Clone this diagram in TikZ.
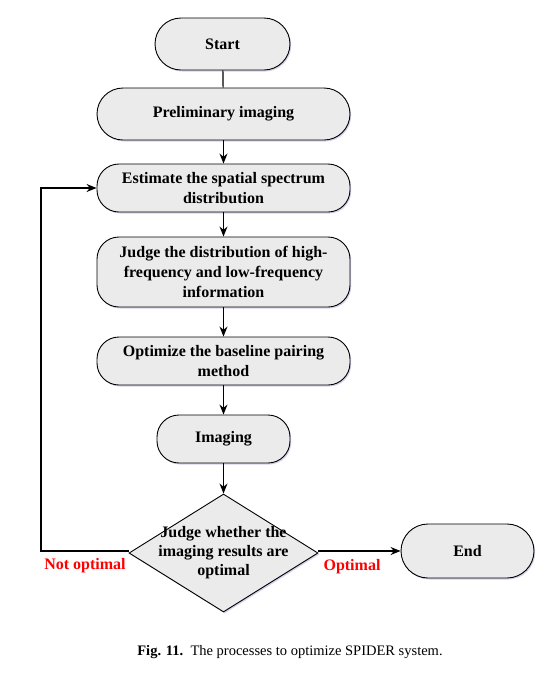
\documentclass[tikz,border=0pt]{standalone}
\usepackage{fontspec}
\setmainfont{Liberation Serif}
\usetikzlibrary{arrows.meta,shapes.geometric,shadows}

\tikzset{
  box/.style={draw, line width=0.9pt, rounded corners=22pt, fill=black!8, align=center,
    font=\bfseries\fontsize{16}{20}\selectfont, minimum height=48pt, minimum width=253pt,
    drop shadow={shadow xshift=1.2pt, shadow yshift=-1.5pt, fill=blue!40!gray, opacity=0.25}},
  decision/.style={draw, line width=0.9pt, diamond, fill=black!8, minimum width=189pt,
    minimum height=118pt, inner sep=0pt,
    drop shadow={shadow xshift=1.2pt, shadow yshift=-1.5pt, fill=blue!40!gray, opacity=0.25}},
  flow/.style={line width=1.2pt, -{Stealth[length=10pt,width=8pt]}},
  answer/.style={text=red, font=\bfseries\fontsize{16}{18}\selectfont}
}

\begin{document}
\begin{tikzpicture}[x=1pt,y=-1pt]
  \useasboundingbox (0,0) rectangle (557,673);
  \node[box, minimum width=135pt, minimum height=52pt, rounded corners=26pt] (start) at (222.5,44) {Start};
  \node[box, minimum height=52pt, rounded corners=26pt] (prelim) at (223.5,114) {Preliminary imaging};
  \node[box] (spectrum) at (223.5,188) {Estimate the spatial spectrum\\distribution};
  \node[box, minimum height=70pt] (judgefreq) at (223.5,272) {Judge the distribution of high-\\frequency and low-frequency\\information};
  \node[box] (baseline) at (223.5,361) {Optimize the baseline pairing\\method};
  \node[box, minimum width=133pt] (imaging) at (223.5,439) {Imaging};
  \node[decision] (judge) at (223.5,553) {};
  \node[align=center, font=\bfseries\fontsize{16}{19}\selectfont] (judgetext) at (judge) {Judge whether the\\imaging results are\\optimal};
  \node[box, minimum width=133pt, minimum height=54pt, rounded corners=27pt] (end) at (467.5,551) {End};
  \coordinate (corner) at (41,551);

  \draw[line width=1.2pt] (start) -- (prelim);
  \path[flow]
  (prelim) edge (spectrum)
  (spectrum) edge (judgefreq)
  (judgefreq) edge (baseline)
  (baseline) edge (imaging)
  (imaging) edge (judge);
  \draw[flow] (judge.east |- end) -- (end);
  \draw[flow] (judge.west |- end) -- (corner) |- (spectrum.west);
  \node[answer] (yes) at (352,567) {Optimal};
  \node[answer] (no) at (85,566) {Not optimal};

  \node[font=\fontsize{14.5}{16}\selectfont] (caption) at (290,652) {\textbf{Fig. 11.}\enspace The processes to optimize SPIDER system.};
\end{tikzpicture}
\end{document}
